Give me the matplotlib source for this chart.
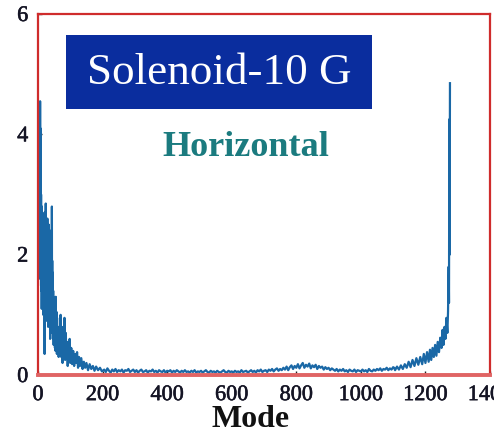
import numpy as np
import matplotlib
matplotlib.use("Agg")
import matplotlib.pyplot as plt
import matplotlib.patheffects as pe
from matplotlib.patches import Rectangle

# Lowest modes, sampled every half mode (0 .. 60)
low_modes = list(np.arange(0, 60.5, 0.5))
low_amp = [1.5, 2.6, 1.8, 3.0, 2.2, 2.7, 1.6, 3.1, 2.0, 3.4, 2.3,
           4.0, 2.5, 4.55, 2.9, 4.1, 2.2, 3.5, 1.9, 3.0, 1.6,
           1.4, 2.6, 1.1, 2.8, 1.6, 2.4, 1.2, 2.7, 1.5, 2.2,
           1.3, 2.6, 1.0, 2.3, 1.7, 2.5, 1.2, 2.1, 1.4, 2.4,
           0.35, 2.2, 1.3, 2.7, 1.1, 2.0, 1.5, 2.85, 1.2, 2.3,
           1.0, 2.5, 1.4, 2.1, 0.9, 2.4, 1.3, 2.6, 1.1, 2.0,
           1.2, 2.3, 0.8, 2.1, 1.3, 2.5, 1.0, 1.9, 1.4, 2.2,
           0.9, 2.0, 1.2, 2.4, 0.6, 1.8, 1.1, 2.2, 0.8, 1.7,
           1.0, 2.1, 0.7, 1.6, 1.1, 2.8, 0.9, 1.9, 0.7, 1.5,
           1.0, 1.7, 0.6, 1.4, 0.9, 1.3, 0.5, 1.2, 0.8, 1.1,
           0.5, 1.25, 0.7, 1.0, 0.45, 1.15, 0.6, 0.95, 0.4, 1.3,
           0.55, 0.9, 0.4, 1.05, 0.5, 0.8, 0.35, 0.95, 0.45, 0.75]

# Decaying tail of the low-mode part
tail_modes = [62, 64, 66, 68, 70, 72, 74, 76, 78, 80, 82, 84, 86, 88,
              90, 92, 94, 96, 98, 100, 103, 106, 109, 112, 115, 118,
              121, 124, 127, 130, 134, 138, 142, 146, 150, 155, 160,
              165, 170, 175, 180, 186, 192, 198]
tail_amp = [0.8, 0.3, 0.7, 0.4, 1.0, 0.3, 0.8, 0.2, 0.6, 0.35, 0.95, 0.25, 0.7, 0.3,
            0.55, 0.15, 0.5, 0.25, 0.6, 0.2, 0.45, 0.18, 0.4, 0.15, 0.35, 0.2,
            0.38, 0.12, 0.3, 0.15, 0.28, 0.1, 0.22, 0.12, 0.2, 0.08, 0.18,
            0.1, 0.15, 0.07, 0.14, 0.08, 0.12, 0.06]

# Flat middle of the spectrum, every 5 modes (205 .. 1100)
mid_modes = list(range(205, 1105, 5))
mid_amp = [0.09, 0.05, 0.11, 0.07, 0.04, 0.09, 0.06, 0.10, 0.05, 0.08,
           0.06, 0.09, 0.04, 0.08, 0.07, 0.10, 0.05, 0.07, 0.09, 0.05,
           0.08, 0.04, 0.07, 0.09, 0.05, 0.06, 0.08, 0.04, 0.07, 0.06,
           0.09, 0.05, 0.07, 0.04, 0.08, 0.06, 0.05, 0.08, 0.04, 0.07,
           0.06, 0.08, 0.04, 0.07, 0.05, 0.08, 0.06, 0.04, 0.07, 0.05,
           0.08, 0.05, 0.06, 0.04, 0.07, 0.05, 0.08, 0.04, 0.06, 0.05,
           0.07, 0.04, 0.06, 0.08, 0.05, 0.04, 0.07, 0.05, 0.06, 0.04,
           0.07, 0.05, 0.04, 0.06, 0.08, 0.05, 0.04, 0.07, 0.05, 0.06,
           0.04, 0.07, 0.05, 0.06, 0.04, 0.08, 0.05, 0.06, 0.07, 0.04,
           0.06, 0.08, 0.05, 0.07, 0.04, 0.08, 0.06, 0.09, 0.05, 0.07,
           0.08, 0.05, 0.09, 0.07, 0.10, 0.06, 0.09, 0.11, 0.07, 0.10,
           0.08, 0.12, 0.09, 0.14, 0.08, 0.13, 0.16, 0.10, 0.15, 0.12,
           0.18, 0.11, 0.16, 0.20, 0.12, 0.17, 0.14, 0.19, 0.11, 0.16,
           0.13, 0.17, 0.10, 0.15, 0.12, 0.14, 0.09, 0.13, 0.10, 0.12,
           0.08, 0.11, 0.09, 0.07, 0.10, 0.06, 0.09, 0.07, 0.10, 0.06,
           0.08, 0.05, 0.09, 0.07, 0.06, 0.09, 0.05, 0.08, 0.07, 0.06,
           0.09, 0.06, 0.08, 0.05, 0.10, 0.07, 0.06, 0.09, 0.07, 0.10,
           0.08, 0.11, 0.07, 0.10, 0.09, 0.12, 0.08, 0.11, 0.09, 0.13]

# High-mode rise
high_modes = [1103, 1106, 1112, 1118, 1124, 1130, 1136, 1142, 1148, 1154, 1160, 1166,
              1172, 1178, 1184, 1190, 1195, 1200, 1205, 1210, 1214, 1218, 1222, 1226,
              1230, 1234, 1238, 1242, 1246, 1250, 1253, 1256, 1259, 1262, 1265, 1268,
              1270, 1272, 1273, 1274, 1275, 1276]
high_amp = [0.12, 0.08, 0.14, 0.09, 0.16, 0.10, 0.18, 0.12, 0.22, 0.13, 0.25, 0.15,
            0.28, 0.17, 0.30, 0.18, 0.35, 0.20, 0.38, 0.22, 0.42, 0.25, 0.45, 0.30,
            0.50, 0.32, 0.55, 0.38, 0.62, 0.45, 0.75, 0.50, 0.80, 0.60, 0.95, 0.70,
            1.05, 1.80, 1.20, 4.25, 2.00, 4.85]

x_ticks = [0, 200, 400, 600, 800, 1000, 1200, 1400]
y_ticks = [0, 2, 4, 6]

modes = np.array(low_modes + tail_modes + mid_modes + high_modes, dtype=float)
amp = np.array(low_amp + tail_amp + mid_amp + high_amp, dtype=float)

W, H = 494, 433
fig = plt.figure(figsize=(W / 100, H / 100), dpi=100)
ax = fig.add_axes([38 / W, 1 - 375 / H, (490 - 38) / W, (375 - 14) / H])

ax.plot(modes, amp, color="#1a68a6", lw=1.6)

ax.set_xlim(0, 1400)
ax.set_ylim(0, 6)
ax.set_xticks(x_ticks)
ax.set_yticks(y_ticks)

heavy = [pe.withStroke(linewidth=0.4, foreground="#141424")]
tick_font = dict(family="Liberation Serif", size=16, color="#141424")
for lab in ax.set_xticklabels([str(t) for t in x_ticks], **tick_font):
    lab.set_path_effects(heavy)
for lab in ax.set_yticklabels([str(t) for t in y_ticks], **tick_font):
    lab.set_path_effects(heavy)
ax.tick_params(axis="both", direction="in", length=3, width=1, color="#222222")
ax.tick_params(axis="x", pad=8)
ax.tick_params(axis="y", pad=7)

for side in ("left", "top", "right"):
    ax.spines[side].set_color("#cf2c2c")
    ax.spines[side].set_linewidth(1.6)
ax.spines["bottom"].set_color("#e06464")
ax.spines["bottom"].set_linewidth(2.8)

ax.set_xlabel("Mode", family="Liberation Serif", fontweight="bold", size=23,
              color="#111111")
ax.xaxis.set_label_coords((251 - 38) / 452, -0.122)
ax.xaxis.label.set_va("center")

# Title box
fig.patches.append(Rectangle((66 / W, 1 - 109 / H), (372 - 66) / W, (109 - 35) / H,
                             transform=fig.transFigure, facecolor="#0a2d9e",
                             edgecolor="none", zorder=5))
fig.text(219 / W, 1 - 73 / H, "Solenoid-10 G", family="Liberation Serif", size=32.5,
         color="white", ha="center", va="center", zorder=6)
fig.text(246 / W, 1 - 147 / H, "Horizontal", family="Liberation Serif", fontweight="bold",
         size=26, color="#1b7b7f", ha="center", va="center", zorder=6)

fig.savefig("out.png", dpi=100)
